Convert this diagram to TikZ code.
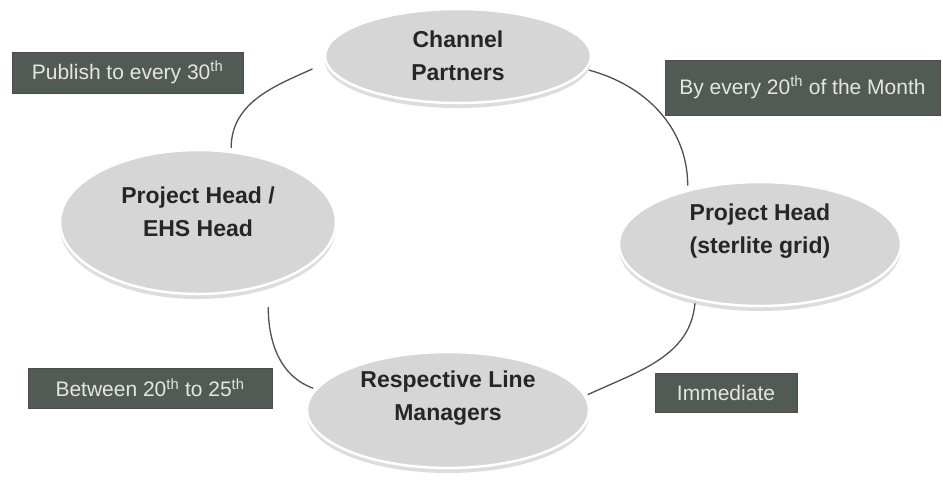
\documentclass[tikz,border=0pt]{standalone}
\usepackage{fontspec}
\setmainfont{Liberation Sans}
\definecolor{tagfill}{RGB}{82,90,85}
\definecolor{ovalfill}{RGB}{214,214,214}
\definecolor{linkgray}{RGB}{80,80,80}
\usetikzlibrary{shapes.geometric,shadows,positioning,calc}

\tikzset{
  oval/.style={ellipse, fill=ovalfill, draw=white, line width=2.5pt, inner sep=0pt,
    drop shadow={shadow xshift=0pt, shadow yshift=-5pt, fill=black!22, opacity=0.6}},
  ovaltext/.style={font=\bfseries\fontsize{23}{33}\selectfont, text=black!85, align=center},
  tag/.style={rectangle, fill=tagfill, draw=black!70, line width=0.6pt, inner sep=0pt,
    font=\fontsize{21}{25}\selectfont, text=white!90!black},
  link/.style={draw=linkgray, line width=1.3pt}
}

\begin{document}
\begin{tikzpicture}[x=1pt,y=-1pt]
\useasboundingbox[fill=white] (0,0) rectangle (943,483);

% the four parties
\node[oval, minimum width=266pt, minimum height=94pt,
  label={[ovaltext]center:Channel\\Partners}] (cp) at (458,56) {};
\node[oval, minimum width=276pt, minimum height=144pt,
  label={[ovaltext, yshift=10pt]center:Project Head /\\EHS Head}] (ehs) at (198,222) {};
\node[oval, minimum width=282pt, minimum height=124pt,
  label={[ovaltext, yshift=13pt]center:Project Head\\(sterlite grid)}] (sg) at (760,244) {};
\node[oval, minimum width=282pt, minimum height=116pt,
  label={[ovaltext, yshift=12pt]center:Respective Line\\Managers}] (lm) at (448,410) {};

% cycle
\draw[link, shorten <=14pt, shorten >=3pt] (cp.183) to[out=205,in=90] (ehs.65);
\draw[link, shorten <=2pt, shorten >=4pt] (cp.-6) to[out=-15,in=90] (sg.143);
\draw[link, shorten <=22pt, shorten >=2pt] (ehs.-42) to[out=-90,in=160] (lm.171);
\draw[link, shorten <=3pt, shorten >=2pt] (sg.-139) to[out=-95,in=25] (lm.6);

% timing tags
\node[tag, minimum width=231pt, minimum height=41pt] (pub) at (127.5,72.5) {Publish to every 30\textsuperscript{th}};
\node[tag, minimum width=275pt, minimum height=55pt] (month) at (802.5,87.5) {By every 20\textsuperscript{th} of the Month};
\node[tag, minimum width=244pt, minimum height=40pt] (between) at (150,388) {Between 20\textsuperscript{th} to 25\textsuperscript{th}};
\node[tag, minimum width=142pt, minimum height=39pt] (imm) at (726,392.5) {Immediate};
\end{tikzpicture}
\end{document}
